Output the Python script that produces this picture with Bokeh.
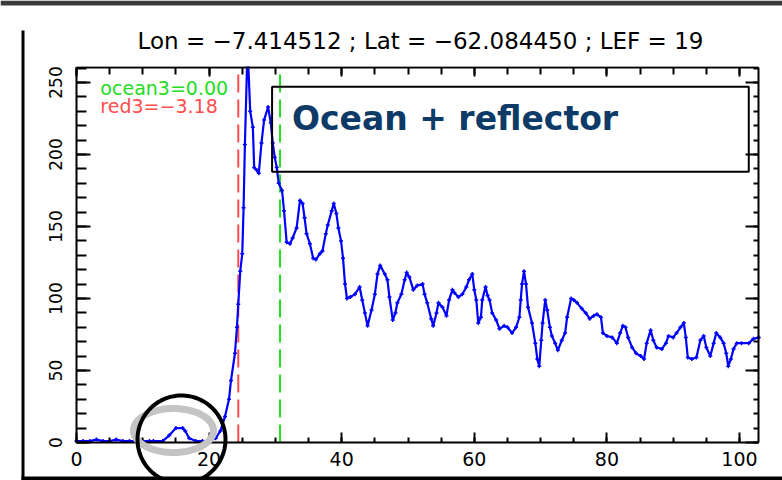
import numpy as np
from bokeh.plotting import figure
from bokeh.models import (Range1d, LinearAxis, SingleIntervalTicker, Label,
                          BoxAnnotation, PolyAnnotation, ColumnDataSource, CustomJSTickFormatter)
from bokeh.embed import file_html
from bokeh.resources import INLINE

# ---- data ----
dist = [0, 1, 2, 3, 4, 5, 6, 7, 8, 9, 10, 11, 11.6, 13, 14, 15, 16, 16.4, 17, 18, 19, 20,
        21, 21.7, 22.4, 23.0, 23.3, 23.9, 24.2, 24.4, 24.7, 25.0, 25.2, 25.4, 25.8,
        26.2, 26.6, 26.8, 27.2, 27.5, 27.9, 28.3, 28.9, 29.3, 29.6, 29.9, 30.2, 30.5,
        31.0, 31.3, 31.7, 32.2, 32.6, 33.2, 33.7, 34.1, 34.4, 34.7, 35.2, 35.7, 36.1,
        36.7, 37.1, 37.6, 37.9, 38.5, 38.8, 39.2, 39.5, 39.9, 40.2, 40.5, 40.8, 41.3,
        42.0, 42.7, 43.1, 43.5, 43.9, 44.5, 45.0, 45.4, 45.8, 46.5, 46.9, 47.2, 47.7,
        48.1, 48.4, 49.0, 49.5, 49.8, 50.2, 50.8, 51.4, 52.2, 52.5, 52.9, 53.5, 53.8,
        54.3, 54.6, 55.2, 55.8, 56.2, 56.7, 57.0, 57.6, 58.2, 58.8, 59.2, 59.7, 60.0,
        60.3, 60.6, 61.0, 61.2, 61.7, 62.0, 62.3, 62.7, 63.3, 63.8, 64.5, 65.0, 65.7,
        66.3, 66.8, 67.0, 67.2, 67.5, 67.8, 68.1, 68.7, 69.2, 69.5, 69.8, 70.1, 70.3,
        70.7, 71.0, 71.4, 71.7, 72.2, 72.6, 73.2, 73.7, 74.0, 74.6, 75.0, 75.5, 76.2,
        76.8, 77.4, 78.0, 78.5, 79.1, 79.4, 80.0, 80.8, 81.5, 82.0, 82.4, 82.8, 83.2,
        83.8, 84.4, 85.1, 85.6, 86.0, 86.6, 87.0, 87.5, 88.3, 88.9, 89.3, 90.0, 90.5,
        91.1, 91.6, 91.9, 92.2, 92.8, 93.5, 94.1, 94.6, 95.0, 95.6, 96.1, 96.5, 97.1,
        97.6, 98.0, 98.3, 98.7, 99.1, 99.6, 100.3, 101.4, 102.1, 102.9]
power = [1, 1, 1, 2, 1, 1, 2, 1, 1, 1, 1, 1, 1, 1, 5, 10, 10, 8, 3, 1, 1, 1,
         3, 8, 18, 30, 43, 62, 80, 96, 119, 131, 163, 207, 275,
         230, 219, 191, 189, 187, 208, 224, 233, 222, 208, 198, 191, 180,
         175, 161, 139, 138, 142, 149, 168, 166, 156, 145, 138, 128, 127,
         131, 133, 145, 151, 161, 166, 159, 149, 140, 128, 110, 100, 101,
         103, 108, 99, 90, 81, 92, 103, 117, 123, 117, 113, 101, 85,
         90, 97, 103, 113, 118, 115, 106, 109, 110, 103, 97, 86, 81,
         90, 97, 94, 88, 99, 106, 104, 101, 103, 108, 113, 117, 106,
         99, 83, 87, 99, 108, 102, 99, 90, 85, 79, 81, 80, 76,
         80, 87, 99, 110, 119, 110, 94, 83, 69, 58, 53, 71, 83,
         99, 92, 80, 74, 69, 64, 71, 76, 87, 100, 99, 97, 93,
         90, 86, 88, 89, 87, 76, 74, 73, 69, 76, 81, 80, 73,
         66, 62, 60, 58, 69, 78, 71, 66, 65, 69, 74, 73, 76,
         80, 83, 73, 59, 58, 59, 71, 74, 66, 60, 69, 76, 73,
         69, 62, 53, 58, 65, 69, 69, 69, 72, 73]
red3_pos = 24.4
ocean3_pos = 30.7
title_text = "Lon = \u22127.414512 ; Lat = \u221262.084450 ; LEF = 19"
ocean3_text = "ocean3=0.00"
red3_text = "red3=\u22123.18"
box_text = "Ocean + reflector"

# axis limits of the inner plot
X_MAX = 102.9
Y_MAX = 260.4

# the frame covers the whole canvas; the axes are fixed at the plot box edges
PX_X = 6.63     # pixels per x unit
PX_Y = 1.44     # pixels per y unit
X0_PX, Y0_PX = 76, 442
W, H = 782, 480
x_start, x_end = -X0_PX / PX_X, (W - X0_PX) / PX_X
y_start, y_end = -(H - Y0_PX) / PX_Y, Y0_PX / PX_Y

p = figure(width=W, height=H, output_backend="svg", toolbar_location=None,
           x_range=Range1d(x_start, x_end), y_range=Range1d(y_start, y_end),
           min_border=0, x_axis_location=None, y_axis_location=None)
p.background_fill_color = "white"
p.border_fill_color = "white"
p.outline_line_color = None
p.xgrid.visible = False
p.ygrid.visible = False

lab_font = "DejaVu Sans"

def mk_axis(interval, minor, show_labels, tick_in, minor_in, loc, bounds):
    ax = LinearAxis(ticker=SingleIntervalTicker(interval=interval, num_minor_ticks=minor),
                    fixed_location=loc, bounds=bounds)
    ax.axis_line_color = "black"
    ax.axis_line_width = 2
    ax.major_tick_line_color = "black"
    ax.major_tick_line_width = 2
    ax.minor_tick_line_color = "black"
    ax.minor_tick_line_width = 2
    ax.major_tick_in = tick_in
    ax.major_tick_out = 0
    ax.minor_tick_in = minor_in
    ax.minor_tick_out = 0
    ax.major_label_text_font = lab_font
    ax.major_label_text_color = "black"
    if not show_labels:
        ax.formatter = CustomJSTickFormatter(code="return ''")
        ax.major_label_standoff = 0
    return ax

xb = mk_axis(20, 4, True, 10, 5, 0, (0, X_MAX))
xb.major_label_text_font_size = "19px"
xb.major_label_standoff = 9
p.add_layout(xb, "below")
xt = mk_axis(20, 4, False, 9, 7, Y_MAX, (0, X_MAX))
p.add_layout(xt, "above")
yl = mk_axis(50, 5, True, 14, 10, 0, (0, Y_MAX))
yl.major_label_text_font_size = "17px"
yl.major_label_orientation = "vertical"
yl.major_label_standoff = 15
p.add_layout(yl, "left")
yr = mk_axis(50, 5, False, 13, 5, X_MAX, (0, Y_MAX))
p.add_layout(yr, "right")

# dashed marker lines spanning the plot box
p.segment(x0=[red3_pos], y0=[0], x1=[red3_pos], y1=[Y_MAX],
          line_color="#ff4d4d", line_width=2, line_dash="18 7")
p.segment(x0=[ocean3_pos], y0=[0], x1=[ocean3_pos], y1=[Y_MAX],
          line_color="#22dd22", line_width=2, line_dash="18 7")

src = ColumnDataSource(dict(x=dist, y=power))
p.line("x", "y", source=src, line_color="#0000ff", line_width=2.2)
p.scatter("x", "y", source=src, marker="cross", size=4, line_color="#0000ff", line_width=1.5)

# white mask above the plot box (the curve is clipped at the top axis in the original)
p.add_layout(BoxAnnotation(left=0, right=X_MAX, bottom=Y_MAX + 0.8, top=y_end,
                           fill_color="white", fill_alpha=1, line_alpha=0))

# legend-like texts
p.add_layout(Label(x=3.6, y=246, text=ocean3_text, text_color="#22dd22",
                   text_font=lab_font, text_font_size="19px", text_baseline="middle"))
p.add_layout(Label(x=3.6, y=234, text=red3_text, text_color="#ff4d4d",
                   text_font=lab_font, text_font_size="19px", text_baseline="middle"))

# title
p.add_layout(Label(x=420, y=40, x_units="canvas", y_units="canvas", text=title_text,
                   text_color="black", text_align="center", level="overlay",
                   text_font=lab_font, text_font_size="23px", text_baseline="middle"))

# annotation box
p.add_layout(BoxAnnotation(left=29.5, right=101.4, bottom=188, top=247,
                           fill_alpha=0, line_color="black", line_alpha=1, line_width=2))
p.add_layout(Label(x=32.5, y=225, text=box_text, text_color="#0d3a66",
                   text_font="DejaVu Sans", text_font_style="bold", text_font_size="33px",
                   text_baseline="middle"))

# highlight ellipses (canvas units)
t = np.linspace(0, 2 * np.pi, 120)
p.add_layout(PolyAnnotation(xs=list(173 + 40 * np.cos(t)), ys=list(430 + 22 * np.sin(t)),
                            xs_units="canvas", ys_units="canvas", level="overlay",
                            fill_alpha=0, line_color="#c4c4c4", line_alpha=1, line_width=7))
p.add_layout(PolyAnnotation(xs=list(181 + 44 * np.cos(t)), ys=list(439 + 44 * np.sin(t)),
                            xs_units="canvas", ys_units="canvas", level="overlay",
                            fill_alpha=0, line_color="black", line_alpha=1, line_width=4))

# slide frame lines (canvas units)
def canvas_box(l, r, t_, b, color):
    return BoxAnnotation(left=l, right=r, top=t_, bottom=b, level="overlay",
                         left_units="canvas", right_units="canvas",
                         top_units="canvas", bottom_units="canvas",
                         fill_color=color, fill_alpha=1, line_alpha=0)

p.add_layout(canvas_box(21, 24, 30, 480, "black"))
p.add_layout(canvas_box(21, 782, 476, 480, "black"))
p.add_layout(canvas_box(0, 782, 0, 5, "#3a3a3a"))

open("out.html", "w").write(file_html(p, INLINE))
